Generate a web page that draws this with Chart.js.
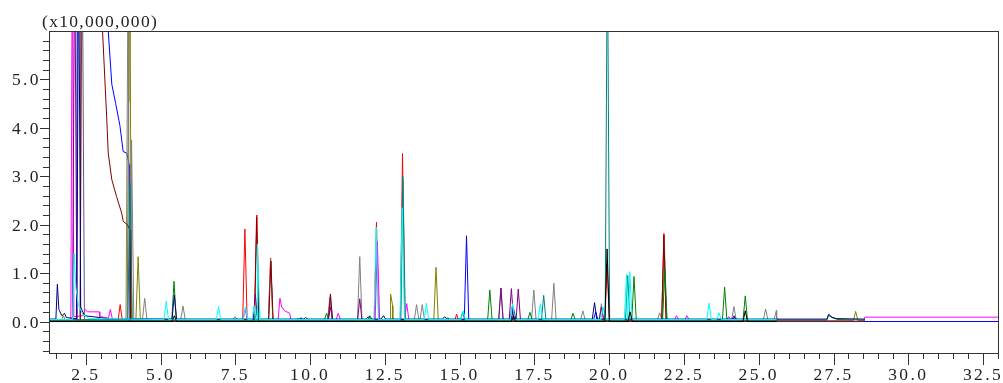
<!DOCTYPE html>
<html>
<head>
<meta charset="utf-8">
<script src="https://cdn.jsdelivr.net/npm/chart.js@4.4.1/dist/chart.umd.min.js"></script>
<style>
  html, body { margin: 0; padding: 0; background: #fff; }
  #wrap { width: 1003px; height: 383px; }
</style>
</head>
<body>
<div id="wrap"><canvas id="tic" width="1003" height="383"></canvas></div>
<script>
// retention time axis (min) and intensity axis (x10,000,000)
var xRange = [1.27, 33.0];
var yRange = [-0.65, 6.0];
var xTickLabels = [2.5, 5.0, 7.5, 10.0, 12.5, 15.0, 17.5, 20.0, 22.5, 25.0, 27.5, 30.0, 32.5];
var yTickLabels = [0.0, 1.0, 2.0, 3.0, 4.0, 5.0];

// peaks per trace: [retention time, intensity]
var blackPeaks = [[5.46,0.12],[16.80,0.12],[19.93,1.50],[20.70,0.20],[24.55,0.22]];
var tealPeaks = [[3.98,2.86],[8.23,0.25],[13.10,3.00],[15.10,0.20],[17.81,0.54],[19.94,8.00],[20.62,0.95]];
var cyanPeaks = [[5.19,0.42],[6.94,0.31],[7.84,0.30],[8.13,0.33],[8.24,1.60],[8.31,0.25],[12.21,1.95],
  [13.08,2.35],[13.89,0.38],[15.12,0.22],[16.77,0.37],[17.70,0.37],[19.80,0.30],[20.58,0.98],[20.69,1.03],
  [23.34,0.38],[23.67,0.18]];
var navyPeaks = [[5.46,0.55],[9.85,0.08],[11.95,0.10],[12.45,0.12],[14.50,0.10],[16.80,0.27],[19.51,0.39]];
var greenPeaks = [[5.45,0.83],[9.60,0.06],[10.55,0.17],[12.00,0.12],[14.60,0.08],[16.01,0.65],[17.35,0.19],
  [18.79,0.17],[20.83,0.93],[21.86,1.08],[23.86,0.71],[24.55,0.53]];
var purplePeaks = [[2.13,8.00],[8.17,0.57],[10.68,0.30],[11.66,0.47],[16.38,0.69],[16.73,0.68],[16.96,0.67],
  [19.74,0.30],[24.17,0.12]];
var maroonPeaks = [[8.21,2.15],[8.69,1.25],[10.68,0.57],[21.83,1.78]];
var grayPeaks = [[2.90,0.08],[3.92,8.00],[4.03,3.75],[4.47,0.48],[5.75,0.32],[7.49,0.10],[8.68,1.29],
  [10.66,0.50],[11.66,1.34],[13.11,2.90],[13.56,0.35],[13.75,0.35],[16.38,0.69],[17.48,0.65],[18.15,0.79],
  [19.12,0.22],[19.74,0.37],[21.69,0.18],[21.85,1.50],[24.17,0.31],[25.23,0.26],[25.59,0.23]];
var olivePeaks = [[1.75,0.12],[3.96,8.00],[4.25,1.34],[12.69,0.57],[12.76,0.33],[14.21,1.12],[28.24,0.21]];
var magentaPeaks = [[3.32,0.25],[7.83,0.25],[10.68,0.50],[10.94,0.17],[12.25,1.65],[13.23,0.37],[16.75,0.30],
  [22.25,0.12],[22.60,0.12],[24.00,0.10]];
var bluePeaks = [[9.70,0.08],[15.23,1.77],[19.55,0.20],[24.20,0.10]];
var slatePeaks = [[2.38,8.00]];
var redPeaks = [[3.65,0.35],[7.82,1.91],[8.22,2.20],[8.68,1.31],[12.22,2.05],[13.09,3.47],[14.90,0.15],
  [19.93,1.20],[21.83,1.82]];

// stretches that are not simple peaks: solvent tails, drifts, late baselines
var navyFront = [[1.50,0.05],[1.55,0.77],[1.60,0.25],[1.70,0.12],[1.79,0.17],[1.85,0.08],[2.20,0.06],
  [2.26,8.00],[2.33,0.30],[2.45,0.12],[3.00,0.08],[3.30,0.05]];
var navyBump = [[27.28,0.05],[27.34,0.15],[27.45,0.09],[27.60,0.06]];
var greenBump = [[27.28,0.03],[27.33,0.13],[27.45,0.08],[27.65,0.04]];
var cyanFront = [[2.06,0.04],[2.11,1.41],[2.17,0.70],[2.25,0.35],[2.40,0.15],[2.60,0.06]];
var magentaFront = [[2.00,0.03],[2.05,8.00],[2.10,0.10],[2.40,0.12],[2.48,0.25],[2.55,0.20],[2.95,0.20],
  [2.97,0.10],[3.22,0.08]];
var magentaHump = [[8.93,0.03],[8.99,0.48],[9.05,0.30],[9.15,0.22],[9.32,0.17],[9.36,0.03]];
var magentaLate = [[25.62,0.00],[28.50,0.00],[28.55,0.09],[33.00,0.09]];
var maroonDrift = [[2.32,0.00],[2.34,8.00],[3.00,7.00],[3.06,6.00],[3.20,4.20],[3.25,3.48],[3.37,2.93],
  [3.53,2.58],[3.70,2.24],[3.75,2.07],[3.89,2.00],[3.98,1.89],[4.00,0.00]];
var blueDrift = [[2.19,0.03],[2.22,8.00],[3.20,6.60],[3.25,6.00],[3.37,4.90],[3.50,4.50],[3.64,4.05],
  [3.75,3.51],[3.87,3.48],[3.95,3.24],[3.97,0.05]];
var blueLate = [[25.62,0.00],[33.00,0.00]];
var purpleLate = [[25.62,0.00],[28.55,0.00]];
var khakiPoints = [[3.96,4.55],[3.97,8.00]];

var HALF = 0.075; // half width of a drawn peak

function trace(base, end, peaks) {
  var pts = [[1.2, base], [end, base]];
  peaks.forEach(function (p) {
    pts.push([p[0] - HALF, base], [p[0], p[1]], [p[0] + HALF, base]);
  });
  for (var i = 3; i < arguments.length; i++) {
    pts = pts.concat(arguments[i]);
  }
  pts.sort(function (a, b) { return a[0] - b[0]; });
  return pts.map(function (p) { return {x: p[0], y: p[1]}; });
}

// first dataset ends up on top
var traces = [
  {label: 'black', color: '#000000', data: trace(0.0, 25.6, blackPeaks)},
  {label: 'cyan', color: '#00ffff', data: trace(0.04, 25.6, cyanPeaks, cyanFront)},
  {label: 'teal', color: '#008080', data: trace(0.03, 25.6, tealPeaks)},
  {label: 'navy', color: '#000080', data: trace(0.05, 28.55, navyPeaks, navyFront, navyBump)},
  {label: 'green', color: '#008000', data: trace(0.03, 28.55, greenPeaks, greenBump)},
  {label: 'purple', color: '#800080', data: trace(0.02, 25.6, purplePeaks, purpleLate)},
  {label: 'maroon', color: '#800000', data: trace(0.0, 25.6, maroonPeaks, maroonDrift)},
  {label: 'gray', color: '#808080', data: trace(0.04, 25.6, grayPeaks)},
  {label: 'olive', color: '#808000', data: trace(0.02, 28.55, olivePeaks)},
  {label: 'magenta', color: '#ff00ff', data: trace(0.03, 25.6, magentaPeaks, magentaFront, magentaHump, magentaLate)},
  {label: 'blue', color: '#0000ff', data: trace(0.03, 25.6, bluePeaks, blueDrift, blueLate)},
  {label: 'slate', color: '#5a5a8c', data: trace(0.03, 25.6, slatePeaks)},
  {label: 'red', color: '#ff0000', data: trace(0.0, 25.6, redPeaks)},
  {label: 'khaki', color: '#bcb86a', width: 2.5, data: khakiPoints.map(function (p) { return {x: p[0], y: p[1]}; })}
];

var FONT = '17.5px "Liberation Serif", "DejaVu Serif", serif';

// box, tick marks and labels drawn by hand (minor ticks are shorter)
var frame = {
  id: 'frame',
  afterDraw: function (chart) {
    var ctx = chart.ctx, a = chart.chartArea;
    var xs = chart.scales.x, ys = chart.scales.y;
    ctx.save();
    ctx.strokeStyle = '#333';
    ctx.lineWidth = 1;
    ctx.strokeRect(a.left + 0.5, a.top + 0.5, a.right - a.left, a.bottom - a.top);

    ctx.beginPath();
    for (var i = 3; i <= 66; i++) {
      var v = i / 2;
      var px = Math.round(xs.getPixelForValue(v)) + 0.5;
      var len = (i % 5 === 0) ? 12 : 6;
      ctx.moveTo(px, a.bottom);
      ctx.lineTo(px, a.bottom + len);
    }
    for (var j = -3; j <= 29; j++) {
      var py = Math.round(ys.getPixelForValue(j / 5)) + 0.5;
      var ylen = (j % 5 === 0) ? 9 : 6;
      ctx.moveTo(a.left - ylen, py);
      ctx.lineTo(a.left, py);
    }
    ctx.stroke();

    ctx.fillStyle = '#222';
    ctx.font = FONT;
    ctx.letterSpacing = '2.4px';
    ctx.textBaseline = 'alphabetic';
    ctx.textAlign = 'center';
    xTickLabels.forEach(function (v) {
      ctx.fillText(v.toFixed(1), xs.getPixelForValue(v), 380);
    });
    ctx.textAlign = 'right';
    yTickLabels.forEach(function (v) {
      ctx.fillText(v.toFixed(1), 41, ys.getPixelForValue(v) + 6);
    });
    ctx.textAlign = 'left';
    ctx.letterSpacing = '1.3px';
    ctx.fillText('(x10,000,000)', 42, 27);
    ctx.restore();
  }
};

new Chart(document.getElementById('tic'), {
  type: 'line',
  data: {
    datasets: traces.map(function (t) {
      return {
        label: t.label,
        data: t.data,
        borderColor: t.color,
        borderWidth: t.width || 1,
        pointRadius: 0,
        tension: 0,
        fill: false
      };
    })
  },
  options: {
    responsive: false,
    animation: false,
    devicePixelRatio: 1,
    layout: {padding: {left: 49, top: 31, right: 5, bottom: 30}},
    plugins: {legend: {display: false}, tooltip: {enabled: false}},
    events: [],
    scales: {
      x: {type: 'linear', min: xRange[0], max: xRange[1], display: false},
      y: {type: 'linear', min: yRange[0], max: yRange[1], display: false}
    }
  },
  plugins: [frame]
});
</script>
</body>
</html>
